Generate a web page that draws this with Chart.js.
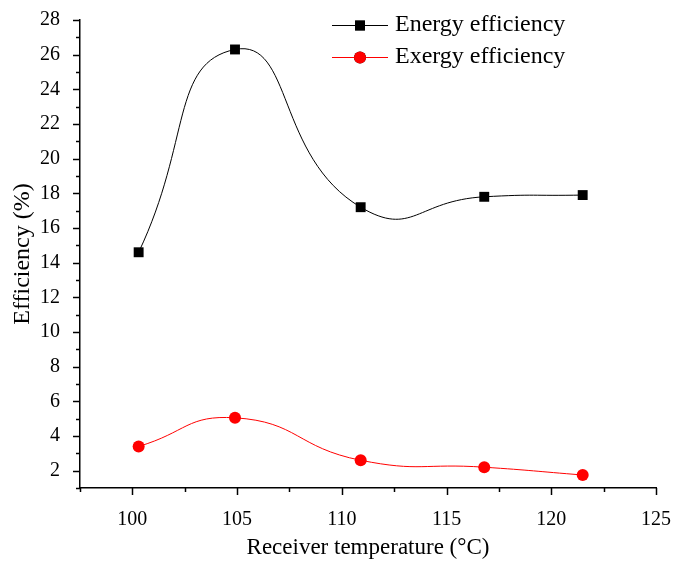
<!DOCTYPE html>
<html>
<head>
<meta charset="utf-8">
<script src="https://cdn.jsdelivr.net/npm/chart.js@4"></script>
<style>
html,body{margin:0;padding:0;background:#fff;}
#wrap{width:674px;height:562px;position:relative;}
</style>
</head>
<body>
<div id="wrap"><canvas id="c" width="674" height="562"></canvas></div>
<script>
const temperatures = [100.3, 104.9, 110.9, 116.8, 121.5];
const energyEfficiency = [14.6, 26.3, 17.2, 17.8, 17.9];
const exergyEfficiency = [3.4, 5.05, 2.6, 2.2, 1.75];
const xTickValues = [100, 105, 110, 115, 120, 125];
const yTickValues = [2, 4, 6, 8, 10, 12, 14, 16, 18, 20, 22, 24, 26, 28];
const seriesNames = ['Energy efficiency', 'Exergy efficiency'];

const FONT = '"Liberation Serif", "Times New Roman", serif';

const toXY = (xs, ys) => xs.map((x, i) => ({x: x, y: ys[i]}));

const ticksPlugin = {
  id: 'originTicks',
  afterDraw(chart) {
    const ctx = chart.ctx;
    const xs = chart.scales.x, ys = chart.scales.y;
    ctx.save();
    ctx.strokeStyle = '#000';
    ctx.lineWidth = 1.5;
    const yb = ys.bottom;
    for (let v = xs.min; v <= xs.max + 1e-9; v += 2.5) {
      const px = Math.round(xs.getPixelForValue(v)) + 0.5;
      const major = xTickValues.includes(Math.round(v * 10) / 10);
      ctx.beginPath();
      ctx.moveTo(px, yb);
      ctx.lineTo(px, yb + (major ? 7 : 4));
      ctx.stroke();
    }
    const xl = xs.left;
    for (let v = ys.min; v <= ys.max + 1e-9; v += 1) {
      const py = Math.round(ys.getPixelForValue(v)) + 0.5;
      const major = yTickValues.includes(v);
      ctx.beginPath();
      ctx.moveTo(xl, py);
      ctx.lineTo(xl - (major ? 7 : 4), py);
      ctx.stroke();
    }
    // legend
    const legendX0 = 332, legendX1 = 388, textX = 395;
    const rows = [25, 57];
    chart.data.datasets.forEach((ds, i) => {
      const y = rows[i];
      ctx.strokeStyle = ds.borderColor;
      ctx.lineWidth = 1;
      ctx.beginPath();
      ctx.moveTo(legendX0, y + 0.5);
      ctx.lineTo(legendX1, y + 0.5);
      ctx.stroke();
      Chart.helpers.drawPoint(ctx, {pointStyle: ds.pointStyle, radius: ds.pointRadius, borderWidth: 0}, (legendX0 + legendX1) / 2, y + 0.5);
      ctx.fillStyle = ds.pointBackgroundColor;
      ctx.fill();
      ctx.fillStyle = '#000';
      ctx.font = '24px ' + FONT;
      ctx.textBaseline = 'middle';
      ctx.textAlign = 'left';
      ctx.fillText(ds.label, textX, y);
    });
    ctx.restore();
  }
};

new Chart(document.getElementById('c'), {
  type: 'scatter',
  data: {
    datasets: [
      {
        label: seriesNames[0],
        data: toXY(temperatures, energyEfficiency),
        showLine: true,
        borderColor: '#000000',
        backgroundColor: '#000000',
        pointBackgroundColor: '#000000',
        pointBorderWidth: 0,
        borderWidth: 1,
        pointStyle: 'rect',
        pointRadius: 7,
        tension: 0.55
      },
      {
        label: seriesNames[1],
        data: toXY(temperatures, exergyEfficiency),
        showLine: true,
        borderColor: '#ff0000',
        backgroundColor: '#ff0000',
        pointBackgroundColor: '#ff0000',
        pointBorderWidth: 0,
        borderWidth: 1,
        pointStyle: 'circle',
        pointRadius: 6,
        tension: 0.5
      }
    ]
  },
  options: {
    responsive: false,
    animation: false,
    events: [],
    layout: {padding: {top: 20, right: 18, left: 0, bottom: 0}},
    plugins: {legend: {display: false}, tooltip: {enabled: false}},
    scales: {
      x: {
        type: 'linear',
        min: 97.5,
        max: 125,
        afterFit(s) { s.height = 74; s.paddingLeft = 0; s.paddingRight = 0; },
        afterBuildTicks(s) { s.ticks = xTickValues.map(v => ({value: v})); },
        grid: {display: false},
        border: {display: true, color: '#000', width: 1.5},
        ticks: {color: '#000', font: {family: FONT, size: 20}, padding: 12, maxRotation: 0, autoSkip: false},
        title: {display: true, text: 'Receiver temperature (°C)', color: '#000', font: {family: FONT, size: 23}, padding: {top: 0, bottom: 0}}
      },
      y: {
        type: 'linear',
        min: 1,
        max: 28,
        afterFit(s) { s.width = 80; s.paddingTop = 0; s.paddingBottom = 0; },
        afterBuildTicks(s) { s.ticks = yTickValues.map(v => ({value: v})); },
        grid: {display: false},
        border: {display: true, color: '#000', width: 1.5},
        ticks: {color: '#000', font: {family: FONT, size: 20}, padding: 12, autoSkip: false},
        title: {display: true, text: 'Efficiency (%)', color: '#000', font: {family: FONT, size: 24}, padding: {top: 8, bottom: 0}}
      }
    }
  },
  plugins: [ticksPlugin]
});
</script>
</body>
</html>
